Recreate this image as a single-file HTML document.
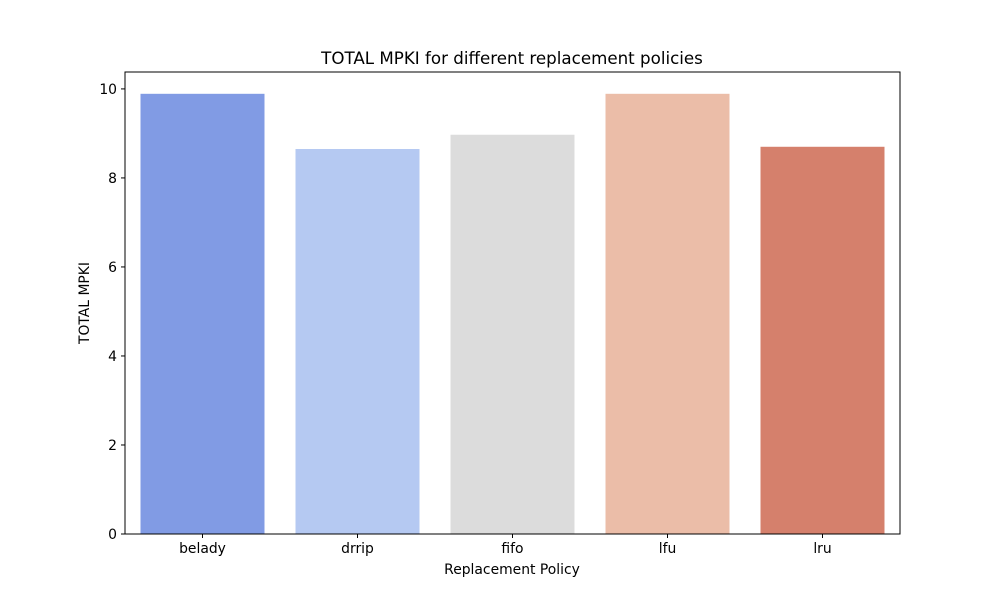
<!DOCTYPE html>
<html><head><meta charset="utf-8"><style>
body{margin:0;background:#fff;}
svg text{font-family:"DejaVu Sans","Liberation Sans",sans-serif;fill:#000;}
</style></head><body>
<svg id="chart" width="1000" height="600">
<text x="512" y="64" font-size="16.7" text-anchor="middle">TOTAL MPKI for different replacement policies</text>
<text x="512" y="574" font-size="13.9" text-anchor="middle">Replacement Policy</text>
<text transform="translate(89,303) rotate(-90)" font-size="13.9" text-anchor="middle">TOTAL MPKI</text>
<g id="bars"></g><g id="axes"></g>
</svg>
<script>
const categories=["belady","drrip","fifo","lfu","lru"];
const values=[9.89,8.65,8.97,9.89,8.70];
const colors=["#819be4","#b5c9f2","#dcdcdc","#ebbda8","#d5806c"];
const yTicks=[0,2,4,6,8,10];
const L=125,R=900,T=72,B=534,yMax=10.38;
const ns="http://www.w3.org/2000/svg";
function y(v){return B-(v/yMax)*(B-T);}
const step=(R-L)/categories.length;
function x(i){return L+step*(i+0.5);}
const bars=document.getElementById('bars'),axes=document.getElementById('axes');
function mk(tag,attrs,parent){const e=document.createElementNS(ns,tag);for(const k in attrs)e.setAttribute(k,attrs[k]);parent.appendChild(e);return e;}
categories.forEach((c,i)=>{
 const r=mk('rect',{x:x(i)-step*0.4,y:y(values[i]),width:step*0.8,height:B-y(values[i]),fill:colors[i]},bars);
 
 
 mk('line',{x1:x(i),x2:x(i),y1:B,y2:B+4,stroke:'#000'},axes);
 const l=mk('text',{x:x(i),y:B+19,'font-size':13.9,'text-anchor':'middle'},axes);
 l.textContent=c;
 
 
});
yTicks.forEach(v=>{
 mk('line',{x1:L-4,x2:L,y1:y(v),y2:y(v),stroke:'#000'},axes);
 const l=mk('text',{x:L-8,y:y(v)+5,'font-size':13.9,'text-anchor':'end'},axes);
 l.textContent=v;
 
 
});
const f=mk('rect',{x:L,y:T,width:R-L,height:B-T,fill:'none',stroke:'#000','stroke-width':1},axes);


</script>
</body></html>
